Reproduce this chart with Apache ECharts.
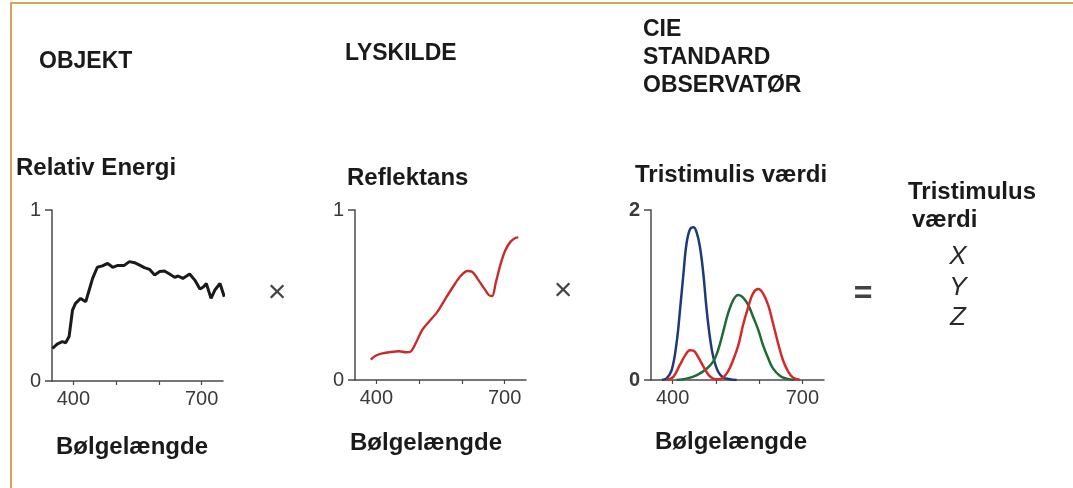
<!DOCTYPE html>
<html>
<head>
<meta charset="utf-8">
<script src="https://cdn.jsdelivr.net/npm/echarts@6/dist/echarts.min.js"></script>
<style>
  html, body { margin: 0; padding: 0; background: #fff; }
  #chart { width: 1073px; height: 488px; }
</style>
</head>
<body>
<div id="chart"></div>
<script>
// wavelength (nm) / value pairs
const energyWl = [351, 362, 374, 382, 390, 398, 405, 417, 429, 437, 445, 456, 468, 480, 492, 504, 519, 531, 543, 555, 566, 578, 590, 602, 613, 625, 637, 645, 656, 672, 684, 696, 704, 711, 722, 731, 743, 753];
const energyVal = [0.19, 0.216, 0.23, 0.224, 0.26, 0.415, 0.454, 0.483, 0.464, 0.532, 0.60, 0.665, 0.673, 0.688, 0.665, 0.676, 0.676, 0.698, 0.692, 0.678, 0.663, 0.653, 0.62, 0.64, 0.643, 0.626, 0.606, 0.614, 0.60, 0.626, 0.59, 0.538, 0.55, 0.57, 0.483, 0.532, 0.57, 0.493];

const reflWl = [387, 398, 414, 434, 453, 469, 480, 492, 507, 523, 543, 562, 582, 597, 613, 624, 636, 652, 663, 671, 679, 691, 702, 714, 726, 732];
const reflVal = [0.12, 0.143, 0.157, 0.165, 0.169, 0.163, 0.167, 0.216, 0.294, 0.343, 0.402, 0.48, 0.559, 0.612, 0.641, 0.637, 0.598, 0.539, 0.50, 0.494, 0.569, 0.686, 0.765, 0.814, 0.837, 0.839];

const zbarWl = [375, 386, 398, 409, 417, 425, 432, 440, 448, 455, 463, 471, 478, 486, 494, 505, 517, 532, 548];
const zbarVal = [0, 0.02, 0.12, 0.43, 0.82, 1.25, 1.6, 1.77, 1.796, 1.745, 1.57, 1.25, 0.86, 0.51, 0.27, 0.1, 0.03, 0.01, 0];

const xbarWl = [386, 402, 417, 429, 440, 448, 459, 471, 483, 494, 505, 517, 528, 540, 552, 563, 575, 586, 598, 609, 621, 632, 644, 655, 667, 678, 694];
const xbarVal = [0, 0.04, 0.18, 0.29, 0.35, 0.345, 0.27, 0.16, 0.06, 0.016, 0.008, 0.03, 0.1, 0.235, 0.41, 0.65, 0.86, 1.02, 1.07, 1.02, 0.88, 0.67, 0.43, 0.235, 0.1, 0.03, 0.004];

const ybarWl = [409, 432, 455, 478, 494, 505, 517, 528, 540, 552, 563, 575, 586, 598, 609, 621, 632, 648, 663, 682];
const ybarVal = [0, 0.016, 0.055, 0.13, 0.22, 0.35, 0.57, 0.78, 0.94, 1.0, 0.97, 0.88, 0.745, 0.59, 0.41, 0.255, 0.137, 0.05, 0.016, 0];

const xTicks = [400, 500, 600, 700];
const xLabels = [400, 700];
const yMax = [1, 1, 2];

const pairs = (xs, ys) => xs.map((x, i) => [x, ys[i]]);

const fontFam = '"Liberation Sans", Arial, sans-serif';
const axisColor = '#4a4a4a';

const grids = [
  { left: 52, top: 210, width: 171, height: 171 },
  { left: 355, top: 210, width: 171, height: 170 },
  { left: 651, top: 210, width: 173, height: 170 }
];

const xAxes = grids.map((g, i) => ({
  type: 'value',
  gridIndex: i,
  min: 350,
  max: 750,
  splitLine: { show: false },
  axisLine: { lineStyle: { color: axisColor, width: 1.5 } },
  axisTick: { customValues: xTicks, length: 4, lineStyle: { color: axisColor, width: 1.2 } },
  axisLabel: { customValues: xLabels, color: '#3a3a3a', fontFamily: fontFam, fontSize: 20, margin: 8 }
}));

const yAxes = yMax.map((m, i) => ({
  type: 'value',
  gridIndex: i,
  min: 0,
  max: m,
  interval: m,
  splitLine: { show: false },
  axisLine: { show: true, lineStyle: { color: axisColor, width: 1.5 } },
  axisTick: { show: true, length: 7, lineStyle: { color: axisColor, width: 1.5 } },
  axisLabel: { color: '#3a3a3a', fontFamily: fontFam, fontSize: 20, margin: 11, fontWeight: i === 2 ? 'bold' : 'normal' }
}));

function line(name, data, idx, color, width, smooth) {
  return {
    name,
    type: 'line',
    xAxisIndex: idx,
    yAxisIndex: idx,
    data,
    symbol: 'none',
    smooth,
    lineStyle: { color, width },
    silent: true
  };
}

function txt(x, y, text, size, opts) {
  return {
    type: 'text',
    x,
    y,
    style: Object.assign({
      text,
      fill: '#1a1a1a',
      font: `bold ${size}px ${fontFam}`,
      textVerticalAlign: 'middle',
      textAlign: 'left'
    }, opts || {})
  };
}

const chart = echarts.init(document.getElementById('chart'));
chart.setOption({
  animation: false,
  backgroundColor: '#fff',
  grid: grids,
  xAxis: xAxes,
  yAxis: yAxes,
  series: [
    line('Relativ Energi', pairs(energyWl, energyVal), 0, '#1a1a1a', 3, false),
    line('Reflektans', pairs(reflWl, reflVal), 1, '#c92a2a', 2.4, 0.3),
    line('z', pairs(zbarWl, zbarVal), 2, '#1f3a78', 2.5, 0.4),
    line('y', pairs(ybarWl, ybarVal), 2, '#1f6b38', 2.5, 0.4),
    line('x', pairs(xbarWl, xbarVal), 2, '#d42a2a', 2.5, 0.4)
  ],
  graphic: [
    {
      type: 'polyline',
      shape: { points: [[11, 488], [11, 3], [1073, 3]] },
      style: { stroke: '#d6a65c', lineWidth: 2, fill: null }
    },
    txt(39, 62, 'OBJEKT', 23),
    txt(345, 54, 'LYSKILDE', 23),
    txt(643, 30, 'CIE', 23),
    txt(643, 58, 'STANDARD', 23),
    txt(643, 86, 'OBSERVATØR', 23),
    txt(16, 168, 'Relativ Energi', 24),
    txt(347, 178, 'Reflektans', 24),
    txt(635, 175, 'Tristimulis værdi', 24),
    txt(908, 192, 'Tristimulus', 24),
    txt(912, 220, 'værdi', 24),
    txt(958, 257, 'X', 26, { font: `italic 26px ${fontFam}`, textAlign: 'center', fill: '#2a2a2a' }),
    txt(958, 288, 'Y', 26, { font: `italic 26px ${fontFam}`, textAlign: 'center', fill: '#2a2a2a' }),
    txt(958, 318, 'Z', 26, { font: `italic 26px ${fontFam}`, textAlign: 'center', fill: '#2a2a2a' }),
    txt(277, 293, '×', 32, { font: `32px ${fontFam}`, textAlign: 'center', fill: '#444' }),
    txt(563, 291, '×', 32, { font: `32px ${fontFam}`, textAlign: 'center', fill: '#444' }),
    txt(863, 294, '=', 32, { font: `bold 32px ${fontFam}`, textAlign: 'center', fill: '#444' }),
    txt(56, 447, 'Bølgelængde', 24),
    txt(350, 443, 'Bølgelængde', 24),
    txt(655, 442, 'Bølgelængde', 24)
  ]
});
</script>
</body>
</html>
